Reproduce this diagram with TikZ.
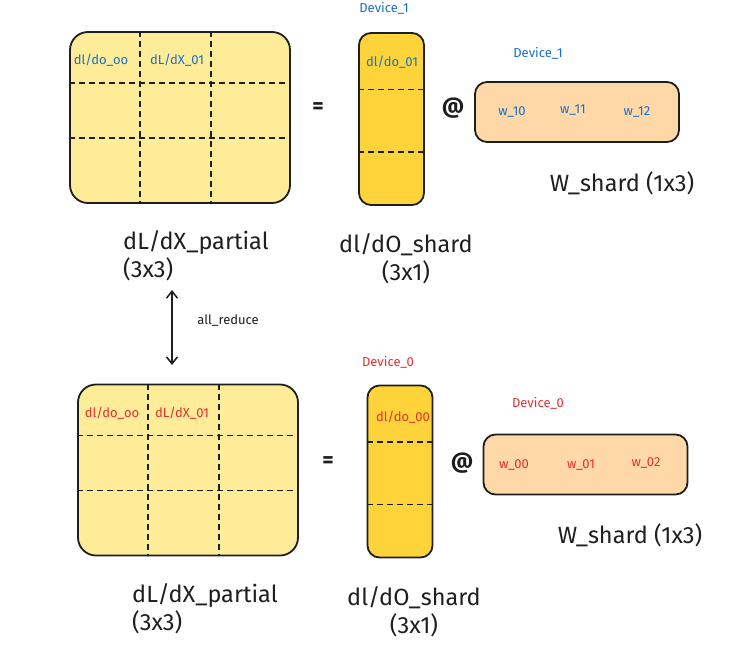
\documentclass[tikz,border=0pt]{standalone}
\usepackage{fontspec}
\setmainfont{Fira Sans}
\usetikzlibrary{arrows.meta, calc, positioning}
\definecolor{matFill}{HTML}{FFEC99}
\definecolor{colFill}{HTML}{FFD43B}
\definecolor{wFill}{HTML}{FFD8A8}
\definecolor{devBlue}{HTML}{1971C2}
\definecolor{devRed}{HTML}{E03131}
\definecolor{inkBlack}{HTML}{1E1E1E}
\tikzset{
    bigMat/.style={rectangle, draw=inkBlack, line width=1.8pt, rounded corners=18pt, fill=matFill, minimum width=220pt, minimum height=171pt},
    colMat/.style={rectangle, draw=inkBlack, line width=1.8pt, rounded corners=12pt, fill=colFill, minimum width=65pt, minimum height=172pt},
    wRow/.style={rectangle, draw=inkBlack, line width=1.8pt, rounded corners=12pt, fill=wFill, minimum width=204pt, minimum height=60pt},
    gridLine/.style={draw=inkBlack, line width=1.5pt, dash pattern=on 6pt off 4pt},
    cellTxt/.style={font=\fontsize{13}{15}\selectfont, inner sep=0pt},
    bigTxt/.style={font=\fontsize{23.5}{28}\selectfont, text=inkBlack, inner sep=0pt},
    opTxt/.style={font=\fontsize{22}{24}\selectfont\bfseries, text=inkBlack, inner sep=0pt},
    reduceEdge/.style={{Straight Barb[length=7pt,width=11pt]}-{Straight Barb[length=7pt,width=11pt]}, line width=1.5pt, draw=inkBlack},
}
\newcommand{\drawGrid}[1]{
    % 竖线
    \foreach \f in {0.32, 0.64}
        \draw[gridLine] ($(#1.north west)!\f!(#1.north east)$) -- ($(#1.south west)!\f!(#1.south east)$);
    % 横线
    \foreach \f in {0.30, 0.62}
        \draw[gridLine] ($(#1.north west)!\f!(#1.south west)$) -- ($(#1.north east)!\f!(#1.south east)$);
}
\newcommand{\drawColGrid}[1]{
    \foreach \f in {0.33, 0.69}
        \draw[gridLine] ($(#1.north west)!\f!(#1.south west)$) -- ($(#1.north east)!\f!(#1.south east)$);
}
\begin{document}
\begin{tikzpicture}[x=1pt, y=-1pt]
        \useasboundingbox (0,0) rectangle (747,653);

        % Device_1
        \node[bigMat] (dxT) at (180, 117.5) {};
        \node[colMat] (doT) at (391.5, 119) {};
        \node[wRow] (wT) at (577, 112) {};
        \drawGrid{dxT}
        \drawColGrid{doT}

        \node[cellTxt, text=devBlue] (c00T) at (101, 60) {dl/do\_oo};
        \node[cellTxt, text=devBlue] (c01T) at (177, 60) {dL/dX\_01};
        \node[cellTxt, text=devBlue] (d0T) at (392, 62) {dl/do\_01};
        \node[cellTxt, text=devBlue] (devColT) at (384, 8) {Device\_1};
        \node[cellTxt, text=devBlue] (devWT) at (538, 53) {Device\_1};
        \node[cellTxt, text=devBlue] (w10) at (512, 112) {w\_10};
        \node[cellTxt, text=devBlue] (w11) at (573, 110) {w\_11};
        \node[cellTxt, text=devBlue] (w12) at (637, 112) {w\_12};

        \node[opTxt] (eqT) at (318, 108) {=};
        \node[opTxt] (atT) at (453, 108) {@};

        \node[bigTxt, anchor=west, align=left] (dxNameT) at (123, 256) {dL/dX\_partial\\(3x3)};
        \node[bigTxt, align=center] (doNameT) at (406, 259) {dl/dO\_shard\\(3x1)};
        \node[bigTxt] (wNameT) at (622, 183) {W\_shard (1x3)};

        % all_reduce
        \coordinate (redTop) at (172, 290);
        \coordinate (redBot) at (172, 365);
        \draw[reduceEdge] (redTop) -- (redBot);
        \node[cellTxt, text=inkBlack] (redTxt) at (228, 321) {all\_reduce};

        % Device_0
        \node[bigMat] (dxB) at (188, 470) {};
        \node[colMat] (doB) at (400, 471.5) {};
        \node[wRow] (wB) at (585.5, 464.5) {};
        \drawGrid{dxB}
        \drawColGrid{doB}

        \node[cellTxt, text=devRed] (c00B) at (112, 413) {dl/do\_oo};
        \node[cellTxt, text=devRed] (c01B) at (182, 413) {dL/dX\_01};
        \node[cellTxt, text=devRed] (d0B) at (403, 417) {dl/do\_00};
        \node[cellTxt, text=devRed] (devColB) at (388, 362) {Device\_0};
        \node[cellTxt, text=devRed] (devWB) at (538, 403) {Device\_0};
        \node[cellTxt, text=devRed] (w00) at (514, 465) {w\_00};
        \node[cellTxt, text=devRed] (w01) at (581, 465) {w\_01};
        \node[cellTxt, text=devRed] (w02) at (646, 463) {w\_02};

        \node[opTxt] (eqB) at (328, 462) {=};
        \node[opTxt] (atB) at (462, 463) {@};

        \node[bigTxt, anchor=west, align=left] (dxNameB) at (132, 609) {dL/dX\_partial\\(3x3)};
        \node[bigTxt, align=center] (doNameB) at (414, 612) {dl/dO\_shard\\(3x1)};
        \node[bigTxt] (wNameB) at (630, 535) {W\_shard (1x3)};

    \end{tikzpicture}
\end{document}
